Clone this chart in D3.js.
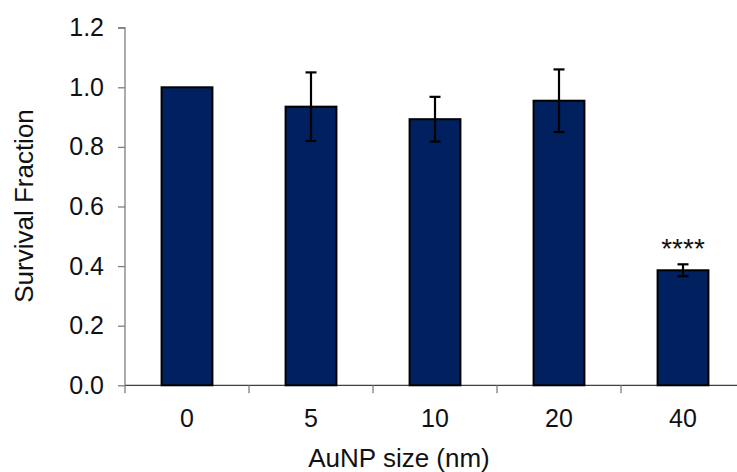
<!DOCTYPE html>
<html lang="en">

<head>
    <meta charset="utf-8">
    <title>Survival fraction by AuNP size</title>
    <script src="https://d3js.org/d3.v7.min.js"></script>
    <style>
        body {
            margin: 0;
            background: white;
        }
        text {
            font-family: "Liberation Sans", Arial, sans-serif;
            fill: #111;
        }
        .bar {
            fill: #002060;
            stroke: black;
            stroke-width: 2;
        }
        .err {
            stroke: black;
            stroke-width: 2.2;
        }
        .axis path, .axis line {
            stroke: #7f7f7f;
            stroke-width: 1.3;
        }
        .axis text {
            font-size: 25px;
        }
    </style>
</head>

<body>
    <script type="text/javascript">
        var w = 737;
        var h = 472;

        // data
        var sizes = ["0", "5", "10", "20", "40"];
        var survival = [1.0, 0.935, 0.893, 0.955, 0.386];
        var errors = [0.0, 0.115, 0.075, 0.105, 0.02];
        var marks = ["", "", "", "", "****"];
        var yTicks = [0, 0.2, 0.4, 0.6, 0.8, 1.0, 1.2];

        var svg = d3.select("body").append("svg")
            .attr("width", w)
            .attr("height", h);

        var x = d3.scaleBand()
            .domain(sizes)
            .range([125, 745])
            .paddingInner(0.59)
            .paddingOuter(0.295);

        var y = d3.scaleLinear()
            .domain([0, 1.2])
            .range([385.3, 27.7]);

        // y axis
        var yAxis = svg.append("g")
            .attr("class", "axis")
            .attr("transform", "translate(125,0)")
            .call(d3.axisLeft(y).tickValues(yTicks).tickSize(7).tickPadding(14)
                .tickFormat(d3.format(".1f")));
        yAxis.select(".domain").attr("d", `M-7,${y(1.2)}H0V${y(0)}`);

        // x axis, ticks sit between categories
        var xAxis = svg.append("g")
            .attr("class", "axis")
            .attr("transform", `translate(0,${y(0)})`);
        xAxis.append("line")
            .attr("x1", 125).attr("x2", 745)
            .attr("y1", 0).attr("y2", 0)
            .style("stroke", "#404040");
        var bounds = sizes.map(d => x(d) - x.step() * x.paddingInner() / 2).concat([745]);
        xAxis.selectAll("line.tick")
            .data(bounds).enter()
            .append("line")
            .attr("class", "tick")
            .attr("x1", d => d).attr("x2", d => d)
            .attr("y1", 0).attr("y2", 8);
        xAxis.selectAll("text")
            .data(sizes).enter()
            .append("text")
            .attr("x", d => x(d) + x.bandwidth() / 2)
            .attr("y", 42)
            .attr("text-anchor", "middle")
            .text(d => d);

        var data = sizes.map((d, i) => ({ size: d, v: survival[i], e: errors[i], m: marks[i] }));

        // bars
        svg.append("g")
            .selectAll("rect")
            .data(data).enter()
            .append("rect")
            .attr("class", "bar")
            .attr("x", d => x(d.size))
            .attr("y", d => y(d.v))
            .attr("width", x.bandwidth())
            .attr("height", d => y(0) - y(d.v));

        // error bars
        var err = svg.append("g").selectAll("g")
            .data(data.filter(d => d.e > 0)).enter()
            .append("g")
            .attr("class", "err");
        var cx = d => x(d.size) + x.bandwidth() / 2;
        err.append("line")
            .attr("x1", cx).attr("x2", cx)
            .attr("y1", d => y(d.v + d.e))
            .attr("y2", d => y(d.v - d.e));
        err.append("line")
            .attr("x1", d => cx(d) - 5.5).attr("x2", d => cx(d) + 5.5)
            .attr("y1", d => y(d.v + d.e)).attr("y2", d => y(d.v + d.e));
        err.append("line")
            .attr("x1", d => cx(d) - 5.5).attr("x2", d => cx(d) + 5.5)
            .attr("y1", d => y(d.v - d.e)).attr("y2", d => y(d.v - d.e));

        // significance marks
        svg.append("g")
            .selectAll("text")
            .data(data.filter(d => d.m)).enter()
            .append("text")
            .attr("x", cx)
            .attr("y", d => y(d.v + d.e) - 6)
            .attr("text-anchor", "middle")
            .attr("font-size", 28)
            .text(d => d.m);

        // axis titles
        svg.append("text")
            .attr("x", 399)
            .attr("y", 467)
            .attr("text-anchor", "middle")
            .attr("font-size", 26)
            .text("AuNP size (nm)");

        svg.append("text")
            .attr("transform", "translate(33,206) rotate(-90)")
            .attr("text-anchor", "middle")
            .attr("font-size", 26)
            .text("Survival Fraction");
    </script>
</body>

</html>
